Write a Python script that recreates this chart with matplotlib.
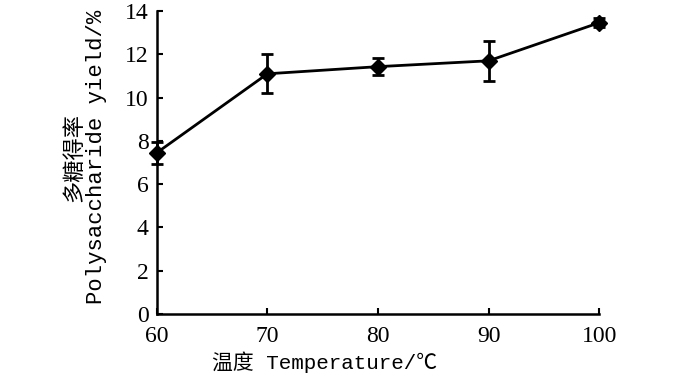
import matplotlib.pyplot as plt

temperature = [60, 70, 80, 90, 100]
yield_pct = [7.45, 11.1, 11.43, 11.7, 13.46]
yield_err = [0.5, 0.9, 0.38, 0.92, 0.2]
x_ticks = [60, 70, 80, 90, 100]
y_ticks = [0, 2, 4, 6, 8, 10, 12, 14]

LABEL_FONT = ['Liberation Mono', 'Noto Sans CJK SC']
TICK_FONT = 'Liberation Serif'

fig = plt.figure(figsize=(7, 3.81), dpi=100)
ax = fig.add_axes([0.224, 0.176, 0.632, 0.795])

ax.errorbar(temperature, yield_pct, yerr=yield_err, color='black', lw=2,
            marker='D', markersize=8, capsize=4, elinewidth=2, capthick=2,
            clip_on=False, zorder=3)

ax.set_xlim(60, 100)
ax.set_ylim(0, 14)
ax.set_xticks(x_ticks)
ax.set_yticks(y_ticks)

for side in ['top', 'right']:
    ax.spines[side].set_visible(False)
for side in ['left', 'bottom']:
    ax.spines[side].set_linewidth(1.8)

ax.tick_params(direction='in', length=4, width=1.5, labelsize=17)
ax.tick_params(axis='x', pad=9)
ax.tick_params(axis='y', pad=6)
for lab in ax.get_xticklabels() + ax.get_yticklabels():
    lab.set_fontfamily(TICK_FONT)

ax.set_xlabel('温度 Temperature/℃', family=LABEL_FONT, fontsize=15)
ax.xaxis.set_label_coords(0.38, -0.125)
ax.set_ylabel('多糖得率\nPolysaccharide yield/%', family=LABEL_FONT, fontsize=16,
              linespacing=1.05)
ax.yaxis.set_label_coords(-0.113, 0.518)

plt.savefig('out.png', dpi=100)
